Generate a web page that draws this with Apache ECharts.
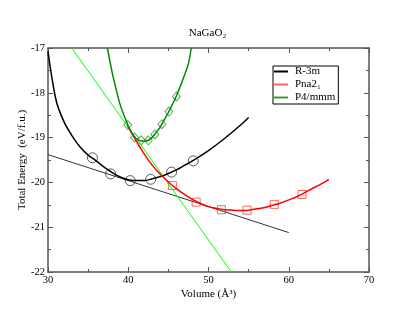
<!DOCTYPE html>
<html><head><meta charset="utf-8">
<script src="https://cdn.jsdelivr.net/npm/echarts@6/dist/echarts.min.js"></script>
<style>html,body{margin:0;padding:0;background:#fff}#c{width:415px;height:321px}</style>
</head><body><div id="c"></div>
<script>
// R-3m fitted curve [volume, energy]
const r3mCurve = [[30,-17.08],[31,-18.16],[32,-18.65],[33,-18.96],[34,-19.21],[35,-19.39],[36,-19.52],[37,-19.66],[38,-19.78],[39,-19.88],[40,-19.94],[41,-19.96],[42,-19.96],[43,-19.92],[44,-19.87],[45,-19.80],[46,-19.72],[47,-19.62],[48,-19.52],[50,-19.29],[52,-19.02],[54,-18.72],[55,-18.55]];
const r3mPoints = [[35.54,-19.45],[37.8,-19.81],[40.25,-19.96],[42.8,-19.93],[45.4,-19.77],[48.1,-19.52]];
// Pna2_1
const pnaCurve = [[39.9,-18.74],[40.5,-18.92],[41,-19.08],[42,-19.37],[43,-19.62],[44,-19.82],[45,-19.99],[46,-20.14],[47,-20.27],[48,-20.38],[49,-20.47],[50,-20.54],[51,-20.58],[52,-20.61],[53,-20.62],[54,-20.625],[55,-20.62],[56,-20.59],[57,-20.56],[58,-20.51],[59,-20.46],[60,-20.39],[61,-20.32],[62,-20.23],[63,-20.13],[64,-20.04],[65,-19.93]];
const pnaPoints = [[45.5,-20.07],[48.46,-20.44],[51.6,-20.61],[54.8,-20.62],[58.2,-20.49],[61.66,-20.27]];
// P4/mmm
const p4Curve = [[37.4,-17.0],[38,-17.55],[38.5,-17.93],[39,-18.27],[39.5,-18.52],[40,-18.74],[40.5,-18.91],[41,-19.02],[41.5,-19.07],[42,-19.08],[42.5,-19.06],[43,-18.99],[43.5,-18.88],[44,-18.76],[44.5,-18.60],[45,-18.44],[45.5,-18.26],[46,-18.07],[46.5,-17.85],[47,-17.61],[47.5,-17.35],[47.85,-17.0]];
const p4Points = [[39.94,-18.72],[40.81,-19.00],[41.63,-19.06],[42.5,-19.06],[43.31,-18.93],[44.19,-18.70],[45.06,-18.42],[46.0,-18.08]];
// common tangent lines
const tangentBlack = [[30,-19.38],[60,-21.12]];
const tangentGreen = [[32.96,-17.0],[52.84,-22.0]];
// axes
const xMin = 30, xMax = 70, xStep = 10;
const yMin = -22, yMax = -17, yStep = 1;
const seriesNames = ['R-3m','Pna2\u2081','P4/mmm'];

const FONT = '"Liberation Serif", "Times New Roman", serif';
const axisCommon = {
  axisLine:{show:true,lineStyle:{color:'#555',width:1.5}},
  axisTick:{show:true,inside:true,length:5,lineStyle:{color:'#555',width:1}},
  minorTick:{show:true,splitNumber:2,length:3,lineStyle:{color:'#555',width:1}},
  splitLine:{show:false}
};
const chart = echarts.init(document.getElementById('c'), null, {renderer:'canvas'});
chart.setOption({
  animation:false,
  backgroundColor:'#fff',
  title:{text:'NaGaO\u2082',left:'center',top:23,textStyle:{fontFamily:FONT,fontSize:11,fontWeight:'normal',color:'#000'}},
  grid:{left:48,right:46,top:48,bottom:49},
  legend:{
    data:seriesNames, orient:'vertical', left:273, top:66,
    borderColor:'#000', borderWidth:1, padding:[0,3,1,1], itemGap:2,
    itemWidth:14, itemHeight:2, icon:'rect',
    textStyle:{fontFamily:FONT,fontSize:11,color:'#000',padding:[0,0,0,2]}
  },
  xAxis:[
    Object.assign({type:'value',min:xMin,max:xMax,interval:xStep,position:'bottom',
      name:'Volume (\u00C5\u00B3)',nameLocation:'middle',nameGap:17,nameMoveOverlap:false,
      nameTextStyle:{fontFamily:FONT,fontSize:11,color:'#000'},
      axisLabel:{fontFamily:FONT,fontSize:10.5,color:'#000',margin:3}},axisCommon),
    Object.assign({type:'value',min:xMin,max:xMax,interval:xStep,position:'top',axisLabel:{show:false}},axisCommon)
  ],
  yAxis:[
    Object.assign({type:'value',min:yMin,max:yMax,interval:yStep,position:'left',
      name:'Total Energy  (eV/f.u.)',nameLocation:'middle',nameGap:20,nameMoveOverlap:false,
      nameTextStyle:{fontFamily:FONT,fontSize:11,color:'#000'},
      axisLabel:{fontFamily:FONT,fontSize:10.5,color:'#000',margin:3}},axisCommon),
    Object.assign({type:'value',min:yMin,max:yMax,interval:yStep,position:'right',axisLabel:{show:false}},axisCommon)
  ],
  series:[
    {name:'tangent1',type:'line',data:tangentBlack,showSymbol:false,lineStyle:{color:'#333',width:1},itemStyle:{color:'#333'},silent:true},
    {name:'tangent2',type:'line',data:tangentGreen,showSymbol:false,lineStyle:{color:'#00ff00',width:1},itemStyle:{color:'#00ff00'},silent:true},
    {name:seriesNames[0],type:'line',data:r3mCurve,showSymbol:false,smooth:0.3,lineStyle:{color:'#000',width:1.5},itemStyle:{color:'#000'}},
    {name:'r3mPts',type:'scatter',data:r3mPoints,symbol:'circle',symbolSize:10,itemStyle:{color:'rgba(0,0,0,0)',borderColor:'#000',borderWidth:0.8}},
    {name:seriesNames[1],type:'line',data:pnaCurve,showSymbol:false,smooth:0.3,lineStyle:{color:'#ff0000',width:1.5},itemStyle:{color:'#ff6060'}},
    {name:'pnaPts',type:'scatter',data:pnaPoints,symbol:'rect',symbolSize:8,itemStyle:{color:'rgba(0,0,0,0)',borderColor:'#ff4040',borderWidth:1}},
    {name:seriesNames[2],type:'line',data:p4Curve,showSymbol:false,smooth:0.3,lineStyle:{color:'#008b00',width:1.5},itemStyle:{color:'#3a9a3a'}},
    {name:'p4Pts',type:'scatter',data:p4Points,symbol:'diamond',symbolSize:[8,9],itemStyle:{color:'rgba(0,0,0,0)',borderColor:'#2a9a2a',borderWidth:1}}
  ]
});
</script></body></html>
